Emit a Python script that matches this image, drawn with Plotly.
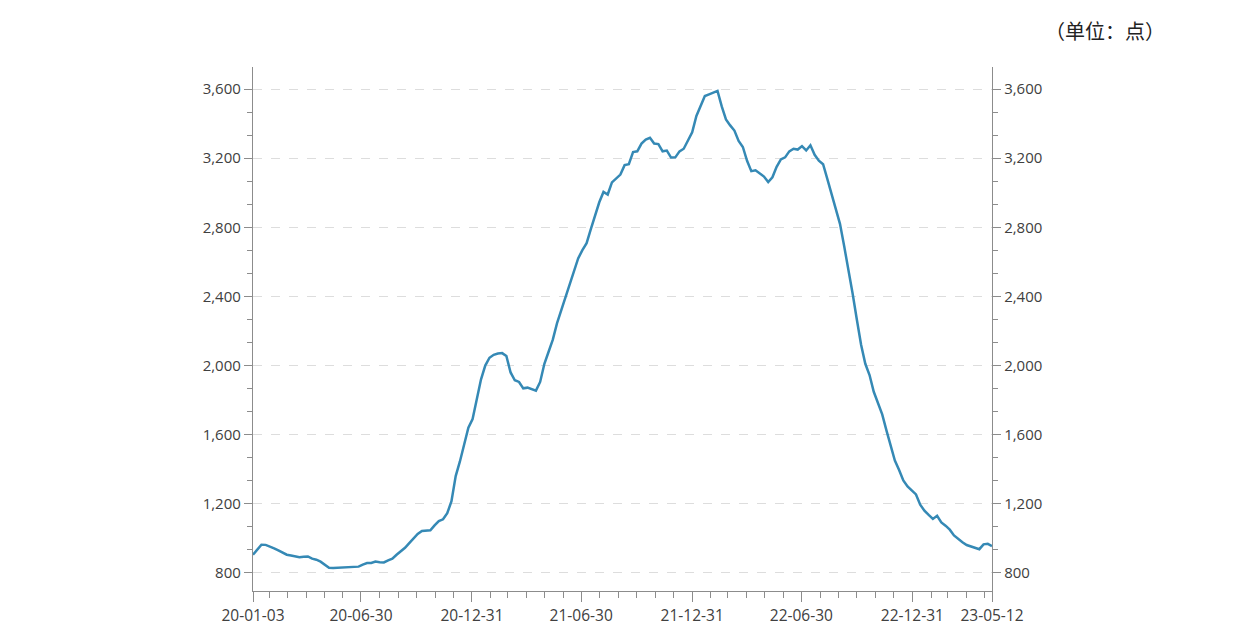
import pandas as pd
import plotly.graph_objects as go

# Weekly dates (Fridays) 2020-01-03 .. 2023-05-12
dates = pd.date_range("2020-01-03", "2023-05-12", freq="W-FRI")

values = [
    905, 935, 963, 962, 953, 942, 930, 915, 905, 900,
    895, 891, 893, 895, 882, 876, 865, 850, 830, 828,
    830, 832, 834, 835, 835, 836, 848, 857, 857, 865,
    862, 860, 872, 882, 905, 925, 945, 972, 1000, 1025,
    1042, 1045, 1046, 1075, 1100, 1110, 1145, 1215, 1360, 1445,
    1540, 1640, 1690, 1800, 1920, 2000, 2045, 2062, 2070, 2072,
    2055, 1960, 1915, 1905, 1868, 1872, 1862, 1855, 1905, 2010,
    2080, 2150, 2245, 2320, 2395, 2480, 2550, 2620, 2668, 2708,
    2790, 2870, 2945, 3005, 2990, 3060, 3085, 3105, 3160, 3165,
    3236, 3240, 3285, 3308, 3318, 3285, 3282, 3240, 3244, 3204,
    3205, 3240, 3255, 3305, 3350, 3445, 3505, 3560, 3570, 3580,
    3590, 3500, 3425, 3390, 3360, 3300, 3265, 3185, 3125, 3130,
    3112, 3094, 3062, 3090, 3150, 3193, 3205, 3240, 3255, 3250,
    3270, 3245, 3275, 3220, 3186, 3165, 3080, 2990, 2905, 2820,
    2690, 2560, 2415, 2265, 2120, 2010, 1945, 1848, 1785, 1717,
    1625, 1530, 1450, 1395, 1335, 1300, 1275, 1254, 1195, 1160,
    1135, 1112, 1130, 1092, 1073, 1050, 1017, 994, 977, 961,
    953, 945, 937, 965, 968, 955,
]

x_tick_vals = ["2020-01-03", "2020-06-30", "2020-12-31", "2021-06-30",
               "2021-12-31", "2022-06-30", "2022-12-31", "2023-05-12"]
x_tick_text = ["20-01-03", "20-06-30", "20-12-31", "21-06-30",
               "21-12-31", "22-06-30", "22-12-31", "23-05-12"]
x_minor_vals = [d.strftime("%Y-%m-%d") for d in
                pd.date_range("2020-01-31", "2023-04-30", freq="ME")]

y_tick_vals = [800, 1200, 1600, 2000, 2400, 2800, 3200, 3600]
y_minor_vals = [800 + i * 400 / 3 for i in range(0, 23)]

unit_title = "（单位：点）"

Y_RANGE = [695, 3728]
X_RANGE = ["2020-01-03", "2023-05-12"]
TEXT_COLOR = "#404040"
AXIS_COLOR = "#8c8c8c"
FONT = "Open Sans"

# page has an 8px body margin; layout numbers are in figure pixels
OFF = 8
L, R, T, B = 253 - OFF, 248 + OFF, 67 - OFF, 48.5 + OFF

fig = go.Figure()
fig.add_trace(go.Scatter(
    x=dates, y=values, mode="lines",
    line=dict(color="#3589b5", width=2.5),
    showlegend=False, hoverinfo="x+y",
))
fig.add_trace(go.Scatter(
    x=dates, y=values, mode="lines", yaxis="y2",
    line=dict(color="rgba(0,0,0,0)", width=0),
    showlegend=False, hoverinfo="skip",
))

yaxis_common = dict(
    range=Y_RANGE,
    tickmode="array",
    tickvals=y_tick_vals,
    tickformat=",",
    ticks="outside",
    ticklen=8,
    tickwidth=1,
    tickcolor=AXIS_COLOR,
    showline=True,
    linecolor=AXIS_COLOR,
    linewidth=1.3,
    tickfont=dict(family=FONT, size=15, color=TEXT_COLOR),
    minor=dict(tickmode="array", tickvals=y_minor_vals, ticks="outside",
               ticklen=5, tickcolor=AXIS_COLOR, tickwidth=1, showgrid=False),
    zeroline=False,
)

fig.update_layout(
    width=1240, height=640,
    autosize=False,
    margin=dict(l=L, r=R, t=T, b=B),
    paper_bgcolor="white",
    plot_bgcolor="white",
    xaxis=dict(
        type="date",
        range=X_RANGE,
        tickmode="array",
        tickvals=x_tick_vals,
        ticktext=x_tick_text,
        ticks="outside",
        ticklen=10,
        tickwidth=1,
        tickcolor=AXIS_COLOR,
        showline=True,
        linecolor=AXIS_COLOR,
        linewidth=1.3,
        showgrid=False,
        zeroline=False,
        tickfont=dict(family=FONT, size=15.5, color=TEXT_COLOR),
        minor=dict(tickmode="array", tickvals=x_minor_vals, ticks="outside",
                   ticklen=6, tickcolor=AXIS_COLOR, tickwidth=1, showgrid=False),
    ),
    yaxis=dict(
        **yaxis_common,
        showgrid=True,
        gridcolor="#dddddd",
        griddash="dash",
        gridwidth=1,
    ),
    yaxis2=dict(
        **yaxis_common,
        overlaying="y",
        side="right",
        showgrid=False,
    ),
)

plot_w = 1240 - L - R
plot_h = 640 - T - B
fig.add_annotation(
    text=unit_title, xref="paper", yref="paper",
    x=(1105 - OFF - L) / plot_w,
    y=(640 - B - (30 - OFF)) / plot_h,
    xanchor="center", yanchor="middle", showarrow=False,
    font=dict(family="Noto Sans CJK SC", size=20, color="#222222"),
)

fig.write_html("out.html")
